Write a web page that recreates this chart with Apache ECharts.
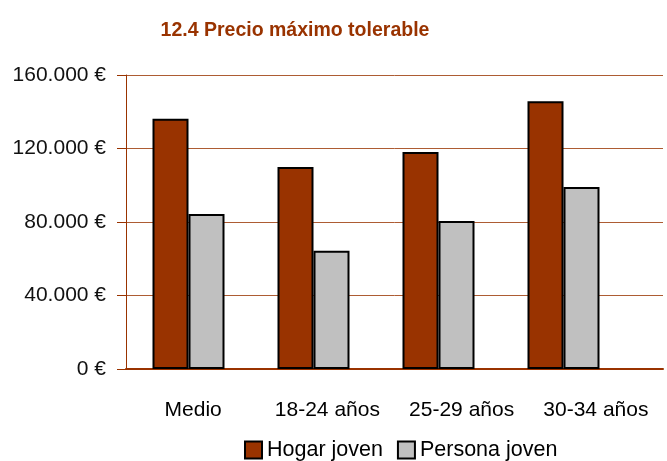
<!DOCTYPE html>
<html>
<head>
<meta charset="utf-8">
<script src="https://cdn.jsdelivr.net/npm/echarts@6/dist/echarts.min.js"></script>
<style>html,body{margin:0;padding:0;background:#fff}#c{width:667px;height:461px}</style>
</head>
<body>
<div id="c"></div>
<script>
const categories = ['Medio', '18-24 años', '25-29 años', '30-34 años'];
const hogarJoven = [136200, 110000, 118100, 145700];
const personaJoven = [84400, 64300, 80600, 99100];
const seriesNames = ['Hogar joven', 'Persona joven'];
const yTicks = [0, 40000, 80000, 120000, 160000];

const FONT = "'Liberation Sans', Arial, sans-serif";
const BROWN = '#993300';

function fmt(v) {
  return String(v).replace(/\B(?=(\d{3})+(?!\d))/g, '.') + ' €';
}

const chart = echarts.init(document.getElementById('c'), null, {renderer: 'canvas'});
chart.setOption({
  animation: false,
  backgroundColor: '#ffffff',
  title: {
    text: '12.4 Precio máximo tolerable',
    left: 290, top: 16, textAlign: 'center',
    textStyle: {fontFamily: FONT, fontSize: 19.5, fontWeight: 'bold', color: BROWN}
  },
  legend: {
    left: 239, top: 434,
    data: seriesNames,
    icon: 'rect', itemWidth: 17, itemHeight: 17, itemGap: 14,
    textStyle: {fontFamily: FONT, fontSize: 21.5, color: '#000'}
  },
  grid: [
    {left: 126, top: 75, width: 500, height: 294},
    {left: 126, top: 75, right: 4, height: 294}
  ],
  xAxis: [
    {gridIndex: 0, type: 'category', data: categories, show: false},
    {gridIndex: 1, type: 'category', data: categories,
     axisLine: {show: true, lineStyle: {color: BROWN, width: 2}},
     axisTick: {show: false},
     axisLabel: {fontFamily: FONT, fontSize: 21, color: '#000', margin: 31, interval: 0}
    }
  ],
  yAxis: [
    {gridIndex: 0, type: 'value', min: 0, max: 160000, interval: 40000, show: false, splitLine: {show: false}},
    {gridIndex: 1, type: 'value', min: 0, max: 160000, interval: 40000,
     axisLine: {show: true, lineStyle: {color: BROWN, width: 1}},
     axisTick: {show: true, length: 9, lineStyle: {color: BROWN}},
     splitLine: {show: true, lineStyle: {color: BROWN, width: 1, opacity: 0.8}},
     axisLabel: {fontFamily: FONT, fontSize: 21, color: '#111', margin: 20,
       formatter: function (v) { return yTicks.indexOf(v) >= 0 ? fmt(v) : ''; }}
    }
  ],
  series: [
    {name: seriesNames[0], type: 'bar', xAxisIndex: 0, yAxisIndex: 0, data: hogarJoven,
     barGap: '0%', barCategoryGap: '42.4%',
     itemStyle: {color: BROWN, borderColor: '#000', borderWidth: 2}},
    {name: seriesNames[1], type: 'bar', xAxisIndex: 0, yAxisIndex: 0, data: personaJoven,
     barGap: '0%', barCategoryGap: '42.4%',
     itemStyle: {color: '#C0C0C0', borderColor: '#000', borderWidth: 2}}
  ]
});
</script>
</body>
</html>
